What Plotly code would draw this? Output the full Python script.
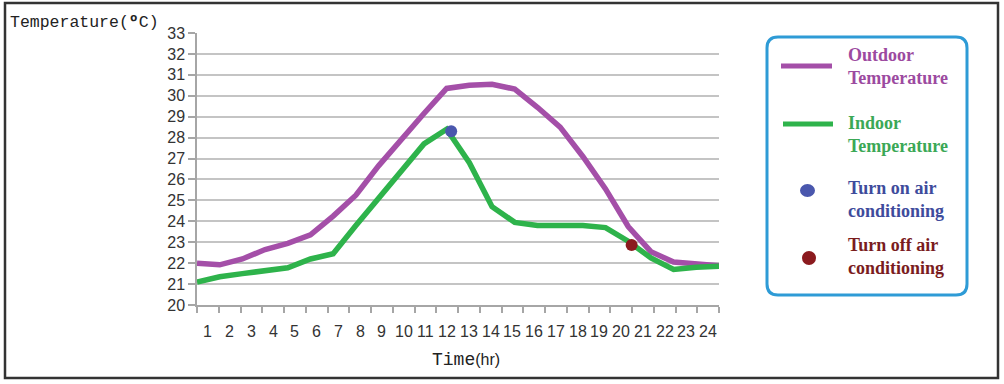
import plotly.graph_objects as go

hours = list(range(1, 25))
hour_labels = [str(h) for h in hours]
outdoor = [22.0, 21.92, 22.2, 22.65, 22.95, 23.35, 24.25, 25.25, 26.65, 27.95, 29.15, 30.35,
           30.5, 30.55, 30.32, 29.45, 28.5, 27.1, 25.55, 23.75, 22.55, 22.05, 21.95, 21.87]
indoor = [21.1, 21.35, 21.5, 21.65, 21.78, 22.2, 22.45, 23.8, 25.1, 26.4, 27.7, 28.4,
          26.8, 24.7, 23.95, 23.8, 23.78, 23.8, 23.7, 23.05, 22.25, 21.7, 21.8, 21.85]
ac_on = (12.2, 28.3)
ac_off = (20.15, 22.87)
y_ticks = list(range(20, 34))

PURPLE = '#A44FA8'
GREEN = '#2EB34B'
BLUE = '#4A57AD'
RED = '#8B1A1E'

# tamanho da figura e margens (pixels)
W_FIG, H_FIG = 1004, 384
L, R, T, B = 197, 285, 33, 79
W = W_FIG - L - R
H = H_FIG - T - B


def fx(px):
    return (px - L) / W


def fy(py):
    return (H_FIG - B - py) / H


fig = go.Figure()
# traco vazio so para o eixo x das horas ser desenhado
fig.add_trace(go.Scatter(x=hours, y=[None] * len(hours), mode='lines',
                         hoverinfo='skip', showlegend=False))
fig.add_trace(go.Scatter(x=hours, y=outdoor, xaxis='x2', mode='lines',
                         line=dict(color=PURPLE, width=5.5), showlegend=False))
fig.add_trace(go.Scatter(x=hours, y=indoor, xaxis='x2', mode='lines',
                         line=dict(color=GREEN, width=5.5), showlegend=False))
fig.add_trace(go.Scatter(x=[ac_on[0]], y=[ac_on[1]], xaxis='x2', mode='markers',
                         marker=dict(color=BLUE, size=12), showlegend=False))
fig.add_trace(go.Scatter(x=[ac_off[0]], y=[ac_off[1]], xaxis='x2', mode='markers',
                         marker=dict(color=RED, size=12), showlegend=False))

tickfont = dict(family='Liberation Sans, Arial', size=16, color='#333333')
# marcas do eixo x entre as horas
boundaries = [h - 0.5 for h in hours] + [hours[-1] + 0.5]

fig.update_layout(
    width=W_FIG, height=H_FIG,
    margin=dict(l=L, r=R, t=T, b=B),
    paper_bgcolor='white', plot_bgcolor='white',
    xaxis=dict(range=[0.5, 24.5], tickmode='array', tickvals=boundaries,
               ticktext=[''] * len(boundaries),
               ticks='outside', ticklen=6, tickcolor='#A6A6A6', tickwidth=1.5,
               showgrid=False, zeroline=False, showline=True, linecolor='#A6A6A6', linewidth=1.5),
    xaxis2=dict(range=[1, 24], overlaying='x', visible=False),
    yaxis=dict(range=[20, 33], tickvals=y_ticks, ticks='outside', ticklen=7,
               tickcolor='#A6A6A6', tickwidth=1.5,
               showgrid=True, gridcolor='#C4C4C4', gridwidth=1.5, zeroline=False,
               showline=True, linecolor='#A6A6A6', linewidth=1.5, tickfont=tickfont),
)

# rotulos das horas, centrados entre as marcas
for h, lab in zip(hours, hour_labels):
    fig.add_annotation(x=h, xref='x', y=fy(331), yref='paper', yanchor='middle',
                       showarrow=False, text=lab, font=tickfont)

# titulos dos eixos
fig.add_annotation(x=fx(8), y=fy(23), xref='paper', yref='paper', xanchor='left',
                   yanchor='middle', showarrow=False,
                   text='Temperature(<b>º</b>C)',
                   font=dict(family='Liberation Mono', size=16.5, color='#222222'))
fig.add_annotation(x=fx(466), y=fy(360), xref='paper', yref='paper', xanchor='center',
                   yanchor='middle', showarrow=False,
                   text="Time<span style='font-family:Liberation Sans;font-size:16px'>(hr)</span>",
                   font=dict(family='Liberation Mono', size=18, color='#222222'))

# moldura externa
fig.add_shape(type='rect', xref='paper', yref='paper', x0=fx(5), x1=fx(998), y0=fy(3), y1=fy(378),
              line=dict(color='#333333', width=2.5), layer='below')

# caixa da legenda com cantos arredondados
x0, x1, y0, y1 = fx(767), fx(967), fy(295), fy(37)
rx, ry = 11 / W, 11 / H
path = (f'M {x0+rx},{y0} L {x1-rx},{y0} Q {x1},{y0} {x1},{y0+ry} '
        f'L {x1},{y1-ry} Q {x1},{y1} {x1-rx},{y1} '
        f'L {x0+rx},{y1} Q {x0},{y1} {x0},{y1-ry} '
        f'L {x0},{y0+ry} Q {x0},{y0} {x0+rx},{y0} Z')
fig.add_shape(type='path', path=path, xref='paper', yref='paper',
              line=dict(color='#2E9BD6', width=3))

fig.add_shape(type='line', xref='paper', yref='paper', x0=fx(781), x1=fx(832), y0=fy(66), y1=fy(66),
              line=dict(color=PURPLE, width=5))
fig.add_shape(type='line', xref='paper', yref='paper', x0=fx(783), x1=fx(833), y0=fy(124), y1=fy(124),
              line=dict(color=GREEN, width=5))
fig.add_shape(type='circle', xref='paper', yref='paper', x0=fx(800), x1=fx(815), y0=fy(184), y1=fy(197),
              fillcolor=BLUE, line=dict(width=0))
fig.add_shape(type='circle', xref='paper', yref='paper', x0=fx(802), x1=fx(816), y0=fy(251), y1=fy(265),
              fillcolor=RED, line=dict(width=0))

legend_items = [
    ('Outdoor<br>Temperature', '#9C4AA0', 66),
    ('Indoor<br>Temperature', '#3BA856', 134),
    ('Turn on air<br>conditioning', '#3E4B9C', 199),
    ('Turn off air<br>conditioning', '#7A1C1E', 256),
]
for txt, col, py in legend_items:
    fig.add_annotation(x=fx(846), y=fy(py), xref='paper', yref='paper', xanchor='left',
                       yanchor='middle', align='left', showarrow=False, text=f'<b>{txt}</b>',
                       font=dict(family='Liberation Serif', size=18, color=col))

fig.write_html('out.html', config={'displayModeBar': False},
               post_script="document.body.style.margin='0';")
